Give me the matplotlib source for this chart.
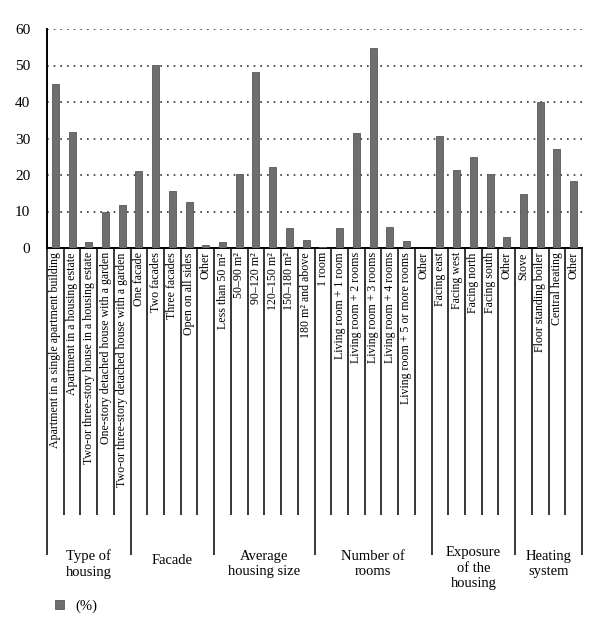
import matplotlib
matplotlib.use('Agg')
import matplotlib.pyplot as plt
import numpy as np

plt.rcParams['font.family'] = ['Liberation Serif', 'DejaVu Serif']

# Values (%)
housing_labels = ['Apartment in a single apartment building', 'Apartment in a housing estate',
                  'Two-or three-story house in a housing estate', 'One-story detached house with a garden',
                  'Two-or three-story detached house with a garden']
housing_values = [44.8, 31.8, 1.7, 9.8, 11.9]

facade_labels = ['One facade', 'Two facades', 'Three facades', 'Open on all sides', 'Other']
facade_values = [21.0, 50.2, 15.6, 12.7, 0.7]

size_labels = ['Less than 50 m²', '50–90 m²', '90–120 m²', '120–150 m²', '150–180 m²', '180 m² and above']
size_values = [1.6, 20.2, 48.3, 22.1, 5.6, 2.2]

rooms_labels = ['1 room', 'Living room + 1 room', 'Living room + 2 rooms', 'Living room + 3 rooms',
                'Living room + 4 rooms', 'Living room + 5 or more rooms', 'Other']
rooms_values = [0.3, 5.4, 31.6, 54.7, 5.7, 1.8, 0.0]

exposure_labels = ['Facing east', 'Facing west', 'Facing north', 'Facing south', 'Other']
exposure_values = [30.6, 21.3, 24.9, 20.2, 3.0]

heating_labels = ['Stove', 'Floor standing boiler', 'Central heating', 'Other']
heating_values = [14.7, 39.9, 27.1, 18.3]

group_names = ['Type of\nhousing', 'Facade', 'Average\nhousing size', 'Number of\nrooms',
               'Exposure\nof the\nhousing', 'Heating\nsystem']
group_labels = [housing_labels, facade_labels, size_labels, rooms_labels, exposure_labels, heating_labels]
group_values = [housing_values, facade_values, size_values, rooms_values, exposure_values, heating_values]

labels = sum(group_labels, [])
values = sum(group_values, [])
sizes = [len(g) for g in group_labels]
x = np.arange(len(values))

fig = plt.figure(figsize=(6, 6.35), dpi=100)
ax = fig.add_axes([47 / 600, 1 - 248 / 635, 535 / 600, 219 / 635])

bars = ax.bar(x, values, width=0.42, color='#6e6e6e', edgecolor='#585858', linewidth=0.6, zorder=3)

ax.set_xlim(-0.5, len(values) - 0.5)
ax.set_ylim(0, 60)
ax.set_yticks(range(0, 61, 10))
ax.tick_params(axis='y', length=0, pad=12, labelsize=11)
for yv in range(10, 61, 10):
    ax.axhline(yv, color='#333333', lw=1.2, linestyle=(0, (1, 3)), zorder=1)

ax.set_xticks(x)
ax.set_xticklabels(labels, rotation=90, fontsize=8.6)
ax.tick_params(axis='x', length=0, pad=3)

for s in ['top', 'right']:
    ax.spines[s].set_visible(False)
ax.spines['left'].set_linewidth(1.4)
ax.spines['bottom'].set_linewidth(1.4)

# table-like separators below the axis
trans = ax.get_xaxis_transform()
cat_bottom = -(515 - 248) / 219
grp_bottom = -(555 - 248) / 219
bounds = np.cumsum([0] + sizes) - 0.5
cell_edges = [b for b in np.arange(len(values) + 1) - 0.5 if b not in bounds]
ax.vlines(cell_edges, cat_bottom, 0, transform=trans, colors='black', lw=1.1, clip_on=False)
ax.vlines(bounds, grp_bottom, 0, transform=trans, colors='black', lw=1.1, clip_on=False)

for name, lo, hi in zip(group_names, bounds[:-1], bounds[1:]):
    nlines = name.count('\n') + 1
    label_y = -(556 + 4 * nlines - 248) / 219
    ax.text((lo + hi) / 2, label_y, name, transform=trans, ha='center', va='center',
            fontsize=10.5, linespacing=1.25)

fig.legend(handles=[bars], labels=['(%)'], loc='center left', frameon=False,
           bbox_to_anchor=(0.07, 1 - 606 / 635), handlelength=0.6, handleheight=0.6,
           handletextpad=0.8, fontsize=10.5)

fig.savefig('out.png', dpi=100)
